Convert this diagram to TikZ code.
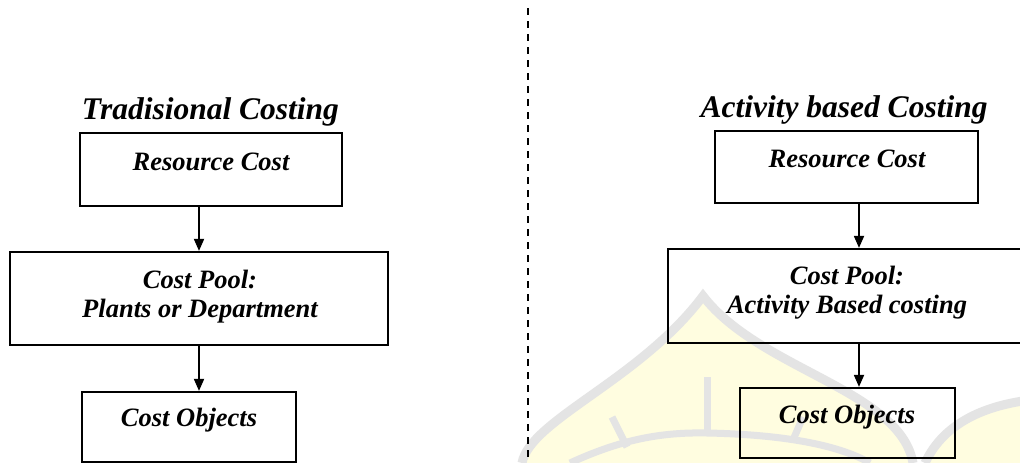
\documentclass[tikz,border=0pt]{standalone}
\usepackage{fontspec}
\setmainfont{Liberation Serif}
\usetikzlibrary{arrows.meta}
\definecolor{wmgray}{RGB}{228,228,228}
\definecolor{wmyellow}{RGB}{255,253,224}
\begin{document}
\begin{tikzpicture}[x=1pt,y=-1pt,
  boxnode/.style={draw=black, line width=2.2pt, inner sep=0pt, rectangle},
  lbl/.style={font=\fontsize{26.5}{29}\selectfont\bfseries\itshape, anchor=base, inner sep=0pt},
  ttl/.style={font=\fontsize{31.5}{34}\selectfont\bfseries\itshape, anchor=base, inner sep=0pt},
  flow/.style={-{Triangle[width=10pt,length=12pt]}, line width=1.8pt},
  wm/.style={draw=wmgray, line width=9pt},
  divider/.style={line width=2pt, dash pattern=on 7pt off 6pt}]
\useasboundingbox (0,0) rectangle (1020,463);
\clip (0,0) rectangle (1020,463);
\fill[white] (0,0) rectangle (1020,463);
% watermark
\fill[wmyellow] (522,463) .. controls (530,420) and (640,380) .. (703,296) .. controls (760,370) and (900,390) .. (913,463) -- cycle;
\draw[wm] (522,463) .. controls (530,420) and (640,380) .. (703,296) .. controls (760,370) and (900,390) .. (913,463);
\fill[wmyellow] (925,463) .. controls (945,420) and (990,405) .. (1030,400) -- (1030,463) -- cycle;
\draw[wm] (925,463) .. controls (945,420) and (990,405) .. (1030,400);
\draw[wm, line width=7pt] (707,377) -- (707,433);
\draw[wm, line width=7pt] (612,417) -- (627,447);
\draw[wm, line width=7pt] (803,417) -- (793,440);
\draw[wm, line width=7pt] (570,463) .. controls (620,440) and (660,432) .. (707,433) .. controls (760,434) and (830,440) .. (870,463);
% divider
\coordinate (dtop) at (528,8);
\coordinate (dbot) at (528,470);
\draw[divider] (dtop) -- (dbot);
% left side
\node[ttl] (t1) at (210.5,119) {Tradisional Costing};
\node[boxnode, minimum width=262pt, minimum height=73pt] (r1) at (211,169.5) {};
\node[boxnode, minimum width=378pt, minimum height=93pt] (p1) at (199,298.5) {};
\node[boxnode, minimum width=214pt, minimum height=70pt] (o1) at (189,427) {};
\node[lbl] (r1t) at (211,170) {Resource Cost};
\node[lbl] (p1a) at (200,288) {Cost Pool:};
\node[lbl] (p1b) at (200,317) {Plants or Department};
\node[lbl] (o1t) at (189,426) {Cost Objects};
\draw[flow] (p1.north |- r1.south) -- (p1.north);
\draw[flow] (p1.south) -- (p1.south |- o1.north);
% right side
\node[ttl] (t2) at (844,117) {Activity based Costing};
\node[boxnode, minimum width=263pt, minimum height=72pt] (r2) at (846.5,167) {};
\node[boxnode, minimum width=358pt, minimum height=94pt] (p2) at (847,296) {};
\node[boxnode, minimum width=215pt, minimum height=70pt] (o2) at (847.5,423) {};
\node[lbl] (r2t) at (847,167) {Resource Cost};
\node[lbl] (p2a) at (847,284) {Cost Pool:};
\node[lbl] (p2b) at (847,313) {Activity Based costing};
\node[lbl] (o2t) at (847,423) {Cost Objects};
\coordinate (ax2) at (859,0);
\draw[flow] (r2.south -| ax2) -- (p2.north -| ax2);
\draw[flow] (p2.south -| ax2) -- (o2.north -| ax2);
\end{tikzpicture}
\end{document}
